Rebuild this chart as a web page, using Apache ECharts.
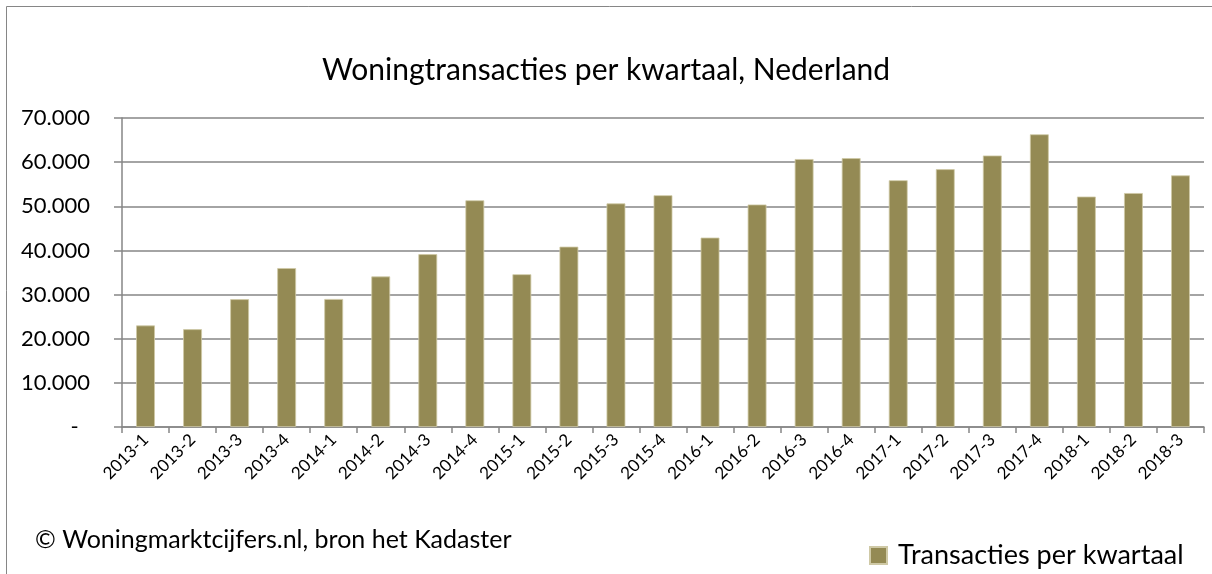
<!DOCTYPE html>
<html>
<head>
<meta charset="utf-8">
<script src="https://cdn.jsdelivr.net/npm/echarts@6/dist/echarts.min.js"></script>
<style>
html,body{margin:0;padding:0;background:#fff;}
#chart{width:1212px;height:574px;}
</style>
</head>
<body>
<div id="chart"></div>
<script>
const categories = ['2013-1','2013-2','2013-3','2013-4','2014-1','2014-2','2014-3','2014-4',
  '2015-1','2015-2','2015-3','2015-4','2016-1','2016-2','2016-3','2016-4',
  '2017-1','2017-2','2017-3','2017-4','2018-1','2018-2','2018-3'];
const transacties = [23000, 22150, 28950, 36000, 29000, 34100, 39150, 51350,
  34600, 40850, 50650, 52500, 42900, 50400, 60700, 60900,
  55900, 58400, 61500, 66300, 52200, 53000, 57000];
const titleText = 'Woningtransacties per kwartaal, Nederland';
const seriesName = 'Transacties per kwartaal';
const footerText = '\u00A9 Woningmarktcijfers.nl, bron het Kadaster';

const FONT = 'Lato, "Open Sans", sans-serif';
const chart = echarts.init(document.getElementById('chart'), null, {renderer: 'canvas'});
chart.setOption({
  backgroundColor: '#ffffff',
  animation: false,
  textStyle: {fontFamily: FONT, color: '#000'},
  title: {
    text: titleText,
    left: 'center',
    top: 50,
    textStyle: {fontFamily: FONT, fontSize: 30, fontWeight: 'normal', color: '#000'}
  },
  legend: {
    data: [seriesName],
    left: 864,
    top: 537,
    icon: 'rect',
    itemWidth: 17,
    itemHeight: 17,
    itemGap: 8,
    textStyle: {fontFamily: FONT, fontSize: 27, color: '#000', padding: [0, 0, 0, 6]}
  },
  graphic: [
    {type: 'rect', shape: {x: 6.5, y: 6.5, width: 1400, height: 800}, style: {fill: 'none', stroke: '#868686', lineWidth: 1}, silent: true, z: -1},
    {type: 'text', left: 35, top: 527, style: {text: footerText, font: '25px ' + FONT, fill: '#000'}}
  ],
  grid: {left: 122, right: 8, top: 118, bottom: 147},
  xAxis: {
    type: 'category',
    data: categories,
    boundaryGap: true,
    axisLine: {lineStyle: {color: '#868686', width: 1.5}},
    axisTick: {show: true, length: 6, interval: 0, lineStyle: {color: '#868686', width: 1.5}},
    axisLabel: {interval: 0, rotate: 45, margin: 10, fontSize: 17, fontFamily: FONT, color: '#000'}
  },
  yAxis: {
    type: 'value',
    min: 0,
    max: 70000,
    interval: 10000,
    axisLine: {show: true, lineStyle: {color: '#868686', width: 1.5}},
    axisTick: {show: true, inside: false, length: 8, lineStyle: {color: '#868686', width: 1.5}},
    splitLine: {show: true, lineStyle: {color: '#868686', width: 1.5}},
    axisLabel: {
      margin: 32,
      fontSize: 22,
      fontFamily: FONT,
      color: '#000',
      formatter: function (v) { return v === 0 ? '-  ' : (v / 1000) + '.000'; }
    }
  },
  series: [{
    name: seriesName,
    type: 'bar',
    data: transacties,
    barWidth: '40%',
    itemStyle: {color: '#948A54', borderColor: '#cfc9a6', borderWidth: 0.8}
  }]
});
</script>
</body>
</html>
